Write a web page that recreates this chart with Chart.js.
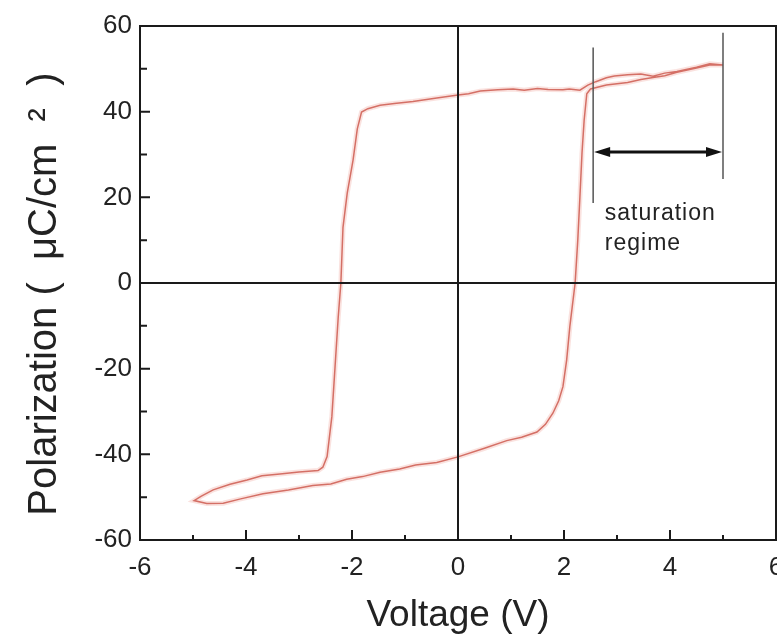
<!DOCTYPE html>
<html>
<head>
<meta charset="utf-8">
<script src="https://cdn.jsdelivr.net/npm/chart.js@4/dist/chart.umd.min.js"></script>
<style>
  html, body { margin: 0; padding: 0; background: #fff; overflow: hidden; width: 777px; height: 640px; }
  #wrap { width: 800px; height: 640px; position: relative; }
</style>
</head>
<body>
<div id="wrap"><canvas id="loop"></canvas></div>
<script>
// hysteresis loop (V, uC/cm2), one closed pass
var voltage = [5.0, 4.75, 4.5, 4.13, 3.9, 3.68, 3.45, 3.2, 2.95, 2.8, 2.6, 2.45, 2.3, 2.1, 1.98, 1.7, 1.5, 1.25, 1.04, 0.75, 0.42, 0.2, 0,
  -0.4, -0.85, -1.2, -1.47, -1.7, -1.82, -1.9, -1.98, -2.09, -2.17, -2.21, -2.26, -2.32, -2.38, -2.47, -2.55, -2.64,
  -3.0, -3.36, -3.7, -3.98, -4.3, -4.62, -4.85, -4.98,
  -4.74, -4.43, -4.1, -3.68, -3.2, -2.74, -2.4, -2.1, -1.8, -1.47, -1.1, -0.8, -0.4, 0,
  0.5, 0.92, 1.2, 1.49, 1.65, 1.79, 1.9, 1.98, 2.05, 2.11, 2.21, 2.26, 2.3, 2.34, 2.38, 2.43,
  2.5, 2.8, 3.2, 3.45, 3.68, 3.9, 4.13, 4.5, 4.75, 5.0];
var polarization = [50.9, 51.2, 50.4, 49.4, 49.0, 48.3, 48.8, 48.6, 48.3, 47.9, 47.0, 46.2, 45.0, 45.3, 45.1, 45.2, 45.4, 45.0, 45.3, 45.1, 44.8, 44.2, 43.9,
  43.2, 42.4, 41.9, 41.5, 40.7, 39.9, 36.0, 28.7, 21.0, 13.0, 0, -8.0, -19.6, -31.2, -40.5, -43.0, -43.8,
  -44.1, -44.6, -45.0, -46.0, -47.0, -48.3, -49.8, -50.8,
  -51.5, -51.4, -50.4, -49.2, -48.3, -47.3, -46.9, -45.8, -45.2, -44.2, -43.4, -42.5, -41.9, -40.6,
  -38.6, -36.8, -36.0, -34.8, -33.0, -30.4, -27.5, -24.2, -18.0, -10.2, 0, 10.0, 20.0, 30.4, 38.0, 44.2,
  45.3, 46.2, 46.8, 47.5, 48.0, 48.4, 49.2, 50.2, 50.9, 50.9];

var xTicks = [-6, -4, -2, 0, 2, 4, 6];
var yTicks = [-60, -40, -20, 0, 20, 40, 60];

// saturation regime marker
var satFrom = 2.55, satTo = 5.0, satArrowY = 30.6;

var loopPoints = voltage.map(function(v, i) { return {x: v, y: polarization[i]}; });

var framePlugin = {
  id: 'frame',
  afterDatasetsDraw: function(chart) {
    var c = chart.ctx, a = chart.chartArea;
    var xs = chart.scales.x, ys = chart.scales.y;
    c.save();
    c.strokeStyle = '#1a1a1a';
    c.lineWidth = 2;
    // zero lines
    c.beginPath();
    c.moveTo(xs.getPixelForValue(0), a.top); c.lineTo(xs.getPixelForValue(0), a.bottom);
    c.moveTo(a.left, ys.getPixelForValue(0)); c.lineTo(a.right, ys.getPixelForValue(0));
    c.stroke();
    // box
    c.strokeRect(a.left, a.top, a.right - a.left, a.bottom - a.top);
    // inward ticks
    c.beginPath();
    for (var v = -6; v <= 6; v++) {
      var px = xs.getPixelForValue(v), len = (v % 2 === 0) ? 10 : 5;
      c.moveTo(px, a.bottom); c.lineTo(px, a.bottom - len);
    }
    for (var p = -60; p <= 60; p += 10) {
      var py = ys.getPixelForValue(p), l2 = (p % 20 === 0) ? 10 : 7;
      c.moveTo(a.left, py); c.lineTo(a.left + l2, py);
    }
    c.stroke();

    // saturation regime
    c.strokeStyle = '#555';
    c.lineWidth = 1.5;
    c.beginPath();
    c.moveTo(xs.getPixelForValue(satFrom), ys.getPixelForValue(55));
    c.lineTo(xs.getPixelForValue(satFrom), ys.getPixelForValue(18.7));
    c.moveTo(xs.getPixelForValue(satTo), ys.getPixelForValue(58.4));
    c.lineTo(xs.getPixelForValue(satTo), ys.getPixelForValue(24.3));
    c.stroke();

    var x1 = xs.getPixelForValue(satFrom) + 1, x2 = xs.getPixelForValue(satTo) - 1;
    var yA = ys.getPixelForValue(satArrowY);
    c.strokeStyle = '#111';
    c.fillStyle = '#111';
    c.lineWidth = 3;
    c.beginPath();
    c.moveTo(x1 + 10, yA); c.lineTo(x2 - 10, yA);
    c.stroke();
    c.beginPath();
    c.moveTo(x1, yA); c.lineTo(x1 + 16, yA - 5); c.lineTo(x1 + 16, yA + 5); c.closePath();
    c.moveTo(x2, yA); c.lineTo(x2 - 16, yA - 5); c.lineTo(x2 - 16, yA + 5); c.closePath();
    c.fill();

    c.font = '23px "Liberation Sans", Arial, sans-serif';
    c.letterSpacing = '1px';
    c.fillStyle = '#222';
    c.textBaseline = 'alphabetic';
    c.textAlign = 'left';
    c.fillText('saturation', xs.getPixelForValue(2.77), ys.getPixelForValue(14.7));
    c.fillText('regime', xs.getPixelForValue(2.77), ys.getPixelForValue(7.7));
    c.restore();
  }
};

var ctx = document.getElementById('loop');
var chart = new Chart(ctx, {
  type: 'scatter',
  data: {
    datasets: [{
      // faint halo like the scanned trace
      data: loopPoints,
      showLine: true,
      borderColor: 'rgba(238,160,150,0.3)',
      borderWidth: 5,
      pointRadius: 0,
      tension: 0
    }, {
      data: loopPoints,
      showLine: true,
      borderColor: 'rgba(198,82,72,0.95)',
      borderWidth: 1.5,
      pointRadius: 0,
      tension: 0
    }]
  },
  options: {
    responsive: true,
    maintainAspectRatio: false,
    animation: false,
    layout: { padding: { top: 26, right: 24, left: 0, bottom: 0 } },
    plugins: { legend: { display: false }, tooltip: { enabled: false } },
    scales: {
      x: {
        type: 'linear',
        min: -6, max: 6,
        afterBuildTicks: function(s) { s.ticks = xTicks.map(function(v) { return {value: v}; }); },
        afterFit: function(s) { s.height = 100; },
        grid: { display: false, drawTicks: false },
        border: { display: false },
        ticks: { padding: 12, color: '#222', font: { size: 26, family: '"Liberation Sans", Arial, sans-serif' } },
        title: { display: true, text: 'Voltage (V)', color: '#222', padding: { top: 0, bottom: 2 },
          font: { size: 37, family: '"Liberation Sans", Arial, sans-serif' } }
      },
      y: {
        type: 'linear',
        min: -60, max: 60,
        afterBuildTicks: function(s) { s.ticks = yTicks.map(function(v) { return {value: v}; }); },
        afterFit: function(s) { s.width = 140; },
        grid: { display: false, drawTicks: false },
        border: { display: false },
        ticks: { padding: 8, color: '#222', font: { size: 26, family: '"Liberation Sans", Arial, sans-serif' } },
        title: { display: true, text: 'Polarization (  \u03bcC/cm  \u00b2  )  ', color: '#222', padding: { top: 21, bottom: 0 },
          font: { size: 40, family: '"Liberation Sans", Arial, sans-serif' } }
      }
    }
  },
  plugins: [framePlugin]
});
</script>
</body>
</html>
